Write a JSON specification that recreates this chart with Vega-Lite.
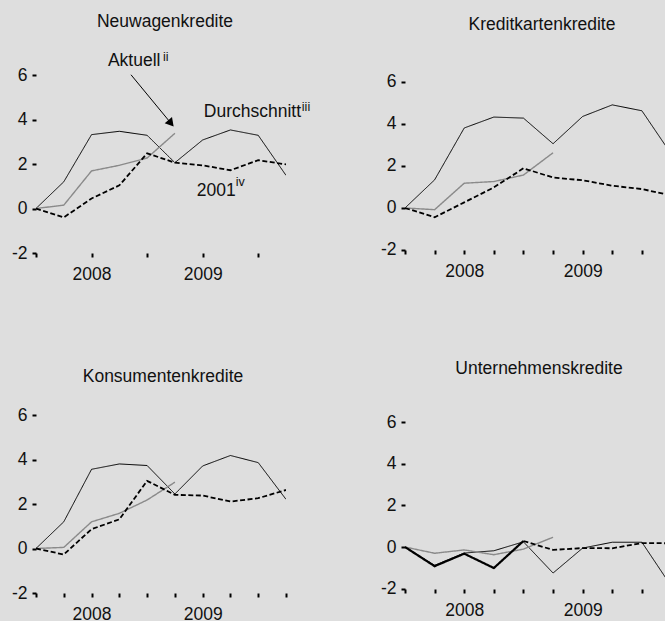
{
"$schema": "https://vega.github.io/schema/vega-lite/v6.json",
"background": "#dedede",
"padding": {"left": 11, "top": 13, "right": 0, "bottom": 0},
"autosize": {"type": "pad"},
"datasets": {
"lines": [
{"panel":"NW","series":"D","x":0,"y":0},{"panel":"NW","series":"D","x":1,"y":1.2},{"panel":"NW","series":"D","x":2,"y":3.32},{"panel":"NW","series":"D","x":3,"y":3.47},{"panel":"NW","series":"D","x":4,"y":3.29},{"panel":"NW","series":"D","x":5,"y":2.06},{"panel":"NW","series":"D","x":6,"y":3.08},{"panel":"NW","series":"D","x":7,"y":3.53},{"panel":"NW","series":"D","x":8,"y":3.29},{"panel":"NW","series":"D","x":9,"y":1.49},
{"panel":"NW","series":"A","x":0,"y":0},{"panel":"NW","series":"A","x":1,"y":0.15},{"panel":"NW","series":"A","x":2,"y":1.69},{"panel":"NW","series":"A","x":3,"y":1.94},{"panel":"NW","series":"A","x":4,"y":2.27},{"panel":"NW","series":"A","x":5,"y":3.38},
{"panel":"NW","series":"S","x":0,"y":0},{"panel":"NW","series":"S","x":1,"y":-0.4},{"panel":"NW","series":"S","x":2,"y":0.45},{"panel":"NW","series":"S","x":3,"y":1.04},{"panel":"NW","series":"S","x":4,"y":2.48},{"panel":"NW","series":"S","x":5,"y":2.06},{"panel":"NW","series":"S","x":6,"y":1.94},{"panel":"NW","series":"S","x":7,"y":1.72},{"panel":"NW","series":"S","x":8,"y":2.17},{"panel":"NW","series":"S","x":9,"y":1.98},
{"panel":"KK","series":"D","x":0,"y":0},{"panel":"KK","series":"D","x":1,"y":1.34},{"panel":"KK","series":"D","x":2,"y":3.81},{"panel":"KK","series":"D","x":3,"y":4.33},{"panel":"KK","series":"D","x":4,"y":4.28},{"panel":"KK","series":"D","x":5,"y":3.06},{"panel":"KK","series":"D","x":6,"y":4.36},{"panel":"KK","series":"D","x":7,"y":4.91},{"panel":"KK","series":"D","x":8,"y":4.63},{"panel":"KK","series":"D","x":9,"y":2.55},
{"panel":"KK","series":"A","x":0,"y":0},{"panel":"KK","series":"A","x":1,"y":-0.08},{"panel":"KK","series":"A","x":2,"y":1.18},{"panel":"KK","series":"A","x":3,"y":1.26},{"panel":"KK","series":"A","x":4,"y":1.57},{"panel":"KK","series":"A","x":5,"y":2.63},
{"panel":"KK","series":"S","x":0,"y":0},{"panel":"KK","series":"S","x":1,"y":-0.44},{"panel":"KK","series":"S","x":2,"y":0.27},{"panel":"KK","series":"S","x":3,"y":0.98},{"panel":"KK","series":"S","x":4,"y":1.89},{"panel":"KK","series":"S","x":5,"y":1.45},{"panel":"KK","series":"S","x":6,"y":1.32},{"panel":"KK","series":"S","x":7,"y":1.06},{"panel":"KK","series":"S","x":8,"y":0.9},{"panel":"KK","series":"S","x":9,"y":0.6},
{"panel":"KO","series":"D","x":0,"y":0},{"panel":"KO","series":"D","x":1,"y":1.2},{"panel":"KO","series":"D","x":2,"y":3.56},{"panel":"KO","series":"D","x":3,"y":3.8},{"panel":"KO","series":"D","x":4,"y":3.73},{"panel":"KO","series":"D","x":5,"y":2.45},{"panel":"KO","series":"D","x":6,"y":3.71},{"panel":"KO","series":"D","x":7,"y":4.18},{"panel":"KO","series":"D","x":8,"y":3.86},{"panel":"KO","series":"D","x":9,"y":2.21},
{"panel":"KO","series":"A","x":0,"y":0},{"panel":"KO","series":"A","x":1,"y":0.05},{"panel":"KO","series":"A","x":2,"y":1.2},{"panel":"KO","series":"A","x":3,"y":1.58},{"panel":"KO","series":"A","x":4,"y":2.18},{"panel":"KO","series":"A","x":5,"y":2.98},
{"panel":"KO","series":"S","x":0,"y":0},{"panel":"KO","series":"S","x":1,"y":-0.27},{"panel":"KO","series":"S","x":2,"y":0.87},{"panel":"KO","series":"S","x":3,"y":1.31},{"panel":"KO","series":"S","x":4,"y":3.04},{"panel":"KO","series":"S","x":5,"y":2.41},{"panel":"KO","series":"S","x":6,"y":2.38},{"panel":"KO","series":"S","x":7,"y":2.11},{"panel":"KO","series":"S","x":8,"y":2.26},{"panel":"KO","series":"S","x":9,"y":2.63},
{"panel":"UK","series":"D","x":0,"y":0},{"panel":"UK","series":"D","x":1,"y":-0.88},{"panel":"UK","series":"D","x":2,"y":-0.29},{"panel":"UK","series":"D","x":3,"y":-0.18},{"panel":"UK","series":"D","x":4,"y":0.25},{"panel":"UK","series":"D","x":5,"y":-1.25},{"panel":"UK","series":"D","x":6,"y":-0.05},{"panel":"UK","series":"D","x":7,"y":0.23},{"panel":"UK","series":"D","x":8,"y":0.23},{"panel":"UK","series":"D","x":9,"y":-1.9},
{"panel":"UK","series":"A","x":0,"y":0},{"panel":"UK","series":"A","x":1,"y":-0.3},{"panel":"UK","series":"A","x":2,"y":-0.14},{"panel":"UK","series":"A","x":3,"y":-0.37},{"panel":"UK","series":"A","x":4,"y":-0.1},{"panel":"UK","series":"A","x":5,"y":0.47},
{"panel":"UK","series":"S1","x":0,"y":0},{"panel":"UK","series":"S1","x":1,"y":-0.92},{"panel":"UK","series":"S1","x":2,"y":-0.32},{"panel":"UK","series":"S1","x":3,"y":-1.01},{"panel":"UK","series":"S1","x":4,"y":0.29},
{"panel":"UK","series":"S","x":4,"y":0.29},{"panel":"UK","series":"S","x":5,"y":-0.14},{"panel":"UK","series":"S","x":6,"y":-0.05},{"panel":"UK","series":"S","x":7,"y":-0.06},{"panel":"UK","series":"S","x":8,"y":0.19},{"panel":"UK","series":"S","x":9,"y":0.18}
],
"labels": [
{"kind":"main","x":2.59,"y":6.41,"t":"Aktuell"},
{"kind":"sup","x":4.57,"y":6.64,"t":"ii"},
{"kind":"main","x":6.04,"y":4.13,"t":"Durchschnitt"},
{"kind":"sup","x":9.57,"y":4.39,"t":"iii"},
{"kind":"main","x":5.79,"y":0.58,"t":"2001"},
{"kind":"sup","x":7.19,"y":0.99,"t":"iv"}
],
"arrow": [
{"x":3.42,"y":6.01,"x2":4.86,"y2":3.83}
]
},
"data": {"name": "lines"},
"concat": [
{
"width": 250, "height": 178,
"title": {"text": "Neuwagenkredite", "offset": 20, "dx": 4},
"layer": [
{
"transform": [{"filter": "datum.panel === 'NW'"}],
"mark": {"type": "line", "clip": true},
"encoding": {
"x": {"field": "x", "type": "quantitative", "scale": {"domain": [0, 9], "nice": false, "zero": false}, "axis": {"values": [0,1,2,3,4,5,6,7,8,9], "labelExpr": "datum.value == 2 ? '2008' : datum.value == 6 ? '2009' : ''"}, "title": null},
"y": {"field": "y", "type": "quantitative", "scale": {"domain": [-2, 6], "nice": false, "zero": false}, "axis": {"values": [-2,0,2,4,6], "labelExpr": "datum.value < 0 ? '-' + (-datum.value) : '' + datum.value"}, "title": null},
"color": {"field": "series", "type": "nominal", "scale": {"domain": ["D","A","S","S1"], "range": ["#000000","#8a8a8a","#000000","#000000"]}, "legend": null},
"strokeWidth": {"field": "series", "type": "nominal", "scale": {"domain": ["D","A","S","S1"], "range": [1, 2.2, 2.6, 2.6]}, "legend": null},
"strokeDash": {"field": "series", "type": "nominal", "scale": {"domain": ["D","A","S","S1"], "range": [[1,0],[1,0],[5,2.5],[1,0]]}, "legend": null}
}
},
{
"data": {"name": "labels"},
"transform": [{"filter": "datum.kind === 'main'"}],
"mark": {"type": "text", "align": "left", "baseline": "alphabetic", "fontSize": 17.5, "color": "#111111"},
"encoding": {"x": {"field": "x", "type": "quantitative"}, "y": {"field": "y", "type": "quantitative"}, "text": {"field": "t"}}
},
{
"data": {"name": "labels"},
"transform": [{"filter": "datum.kind === 'sup'"}],
"mark": {"type": "text", "align": "left", "baseline": "alphabetic", "fontSize": 12.5, "color": "#111111"},
"encoding": {"x": {"field": "x", "type": "quantitative"}, "y": {"field": "y", "type": "quantitative"}, "text": {"field": "t"}}
},
{
"data": {"name": "arrow"},
"mark": {"type": "rule", "color": "#000000", "strokeWidth": 1},
"encoding": {"x": {"field": "x", "type": "quantitative"}, "y": {"field": "y", "type": "quantitative"}, "x2": {"field": "x2"}, "y2": {"field": "y2"}}
},
{
"data": {"name": "arrow"},
"mark": {"type": "point", "shape": "triangle-up", "filled": true, "color": "#000000", "size": 90, "angle": 140, "opacity": 1},
"encoding": {"x": {"field": "x2", "type": "quantitative"}, "y": {"field": "y2", "type": "quantitative"}}
}
]
},
{
"width": 260, "height": 178,
"title": {"text": "Kreditkartenkredite", "offset": 39, "dx": 7},
"transform": [{"filter": "datum.panel === 'KK'"}],
"mark": {"type": "line", "clip": true},
"encoding": {
"x": {"field": "x", "type": "quantitative", "scale": {"domain": [0, 8.78], "nice": false, "zero": false}, "axis": {"values": [0,1,2,3,4,5,6,7,8], "offset": -3, "labelExpr": "datum.value == 2 ? '2008' : datum.value == 6 ? '2009' : ''"}, "title": null},
"y": {"field": "y", "type": "quantitative", "scale": {"domain": [-2.143, 6.333], "nice": false, "zero": false}, "axis": {"values": [-2,0,2,4,6], "labelExpr": "datum.value < 0 ? '-' + (-datum.value) : '' + datum.value"}, "title": null},
"color": {"field": "series", "type": "nominal", "scale": {"domain": ["D","A","S","S1"], "range": ["#000000","#8a8a8a","#000000","#000000"]}, "legend": null},
"strokeWidth": {"field": "series", "type": "nominal", "scale": {"domain": ["D","A","S","S1"], "range": [1, 2.2, 2.6, 2.6]}, "legend": null},
"strokeDash": {"field": "series", "type": "nominal", "scale": {"domain": ["D","A","S","S1"], "range": [[1,0],[1,0],[5,2.5],[1,0]]}, "legend": null}
}
},
{
"width": 250, "height": 178,
"title": {"text": "Konsumentenkredite", "offset": 21, "dx": 2},
"transform": [{"filter": "datum.panel === 'KO'"}],
"mark": {"type": "line", "clip": true},
"encoding": {
"x": {"field": "x", "type": "quantitative", "scale": {"domain": [0, 9], "nice": false, "zero": false}, "axis": {"values": [0,1,2,3,4,5,6,7,8,9], "labelExpr": "datum.value == 2 ? '2008' : datum.value == 6 ? '2009' : ''"}, "title": null},
"y": {"field": "y", "type": "quantitative", "scale": {"domain": [-2, 6], "nice": false, "zero": false}, "axis": {"values": [-2,0,2,4,6], "labelExpr": "datum.value < 0 ? '-' + (-datum.value) : '' + datum.value"}, "title": null},
"color": {"field": "series", "type": "nominal", "scale": {"domain": ["D","A","S","S1"], "range": ["#000000","#8a8a8a","#000000","#000000"]}, "legend": null},
"strokeWidth": {"field": "series", "type": "nominal", "scale": {"domain": ["D","A","S","S1"], "range": [1, 2.2, 2.6, 2.6]}, "legend": null},
"strokeDash": {"field": "series", "type": "nominal", "scale": {"domain": ["D","A","S","S1"], "range": [[1,0],[1,0],[5,2.5],[1,0]]}, "legend": null}
}
},
{
"width": 260, "height": 178,
"title": {"text": "Unternehmenskredite", "offset": 36, "dx": 4},
"transform": [{"filter": "datum.panel === 'UK'"}],
"mark": {"type": "line", "clip": true},
"encoding": {
"x": {"field": "x", "type": "quantitative", "scale": {"domain": [0, 8.78], "nice": false, "zero": false}, "axis": {"values": [0,1,2,3,4,5,6,7,8], "offset": -4, "labelExpr": "datum.value == 2 ? '2008' : datum.value == 6 ? '2009' : ''"}, "title": null},
"y": {"field": "y", "type": "quantitative", "scale": {"domain": [-2.21, 6.346], "nice": false, "zero": false}, "axis": {"values": [-2,0,2,4,6], "labelExpr": "datum.value < 0 ? '-' + (-datum.value) : '' + datum.value"}, "title": null},
"color": {"field": "series", "type": "nominal", "scale": {"domain": ["D","A","S","S1"], "range": ["#000000","#8a8a8a","#000000","#000000"]}, "legend": null},
"strokeWidth": {"field": "series", "type": "nominal", "scale": {"domain": ["D","A","S","S1"], "range": [1, 2.2, 2.6, 2.6]}, "legend": null},
"strokeDash": {"field": "series", "type": "nominal", "scale": {"domain": ["D","A","S","S1"], "range": [[1,0],[1,0],[5,2.5],[1,0]]}, "legend": null}
}
}
],
"columns": 2,
"align": "none",
"bounds": "flush",
"spacing": {"row": 162, "column": 119},
"config": {
"view": {"stroke": null},
"font": "Liberation Sans",
"axis": {"domain": false, "grid": false, "ticks": true, "tickColor": "#000000", "tickWidth": 2, "tickSize": 4, "labelFont": "Liberation Sans", "labelFontSize": 17.5, "labelColor": "#111111", "labelPadding": 5, "labelOverlap": false, "labelFlush": false, "labelBound": false},
"axisX": {"labelPadding": 8},
"title": {"font": "Liberation Sans", "fontSize": 17.5, "fontWeight": "normal", "color": "#111111", "anchor": "middle"}
}
}
